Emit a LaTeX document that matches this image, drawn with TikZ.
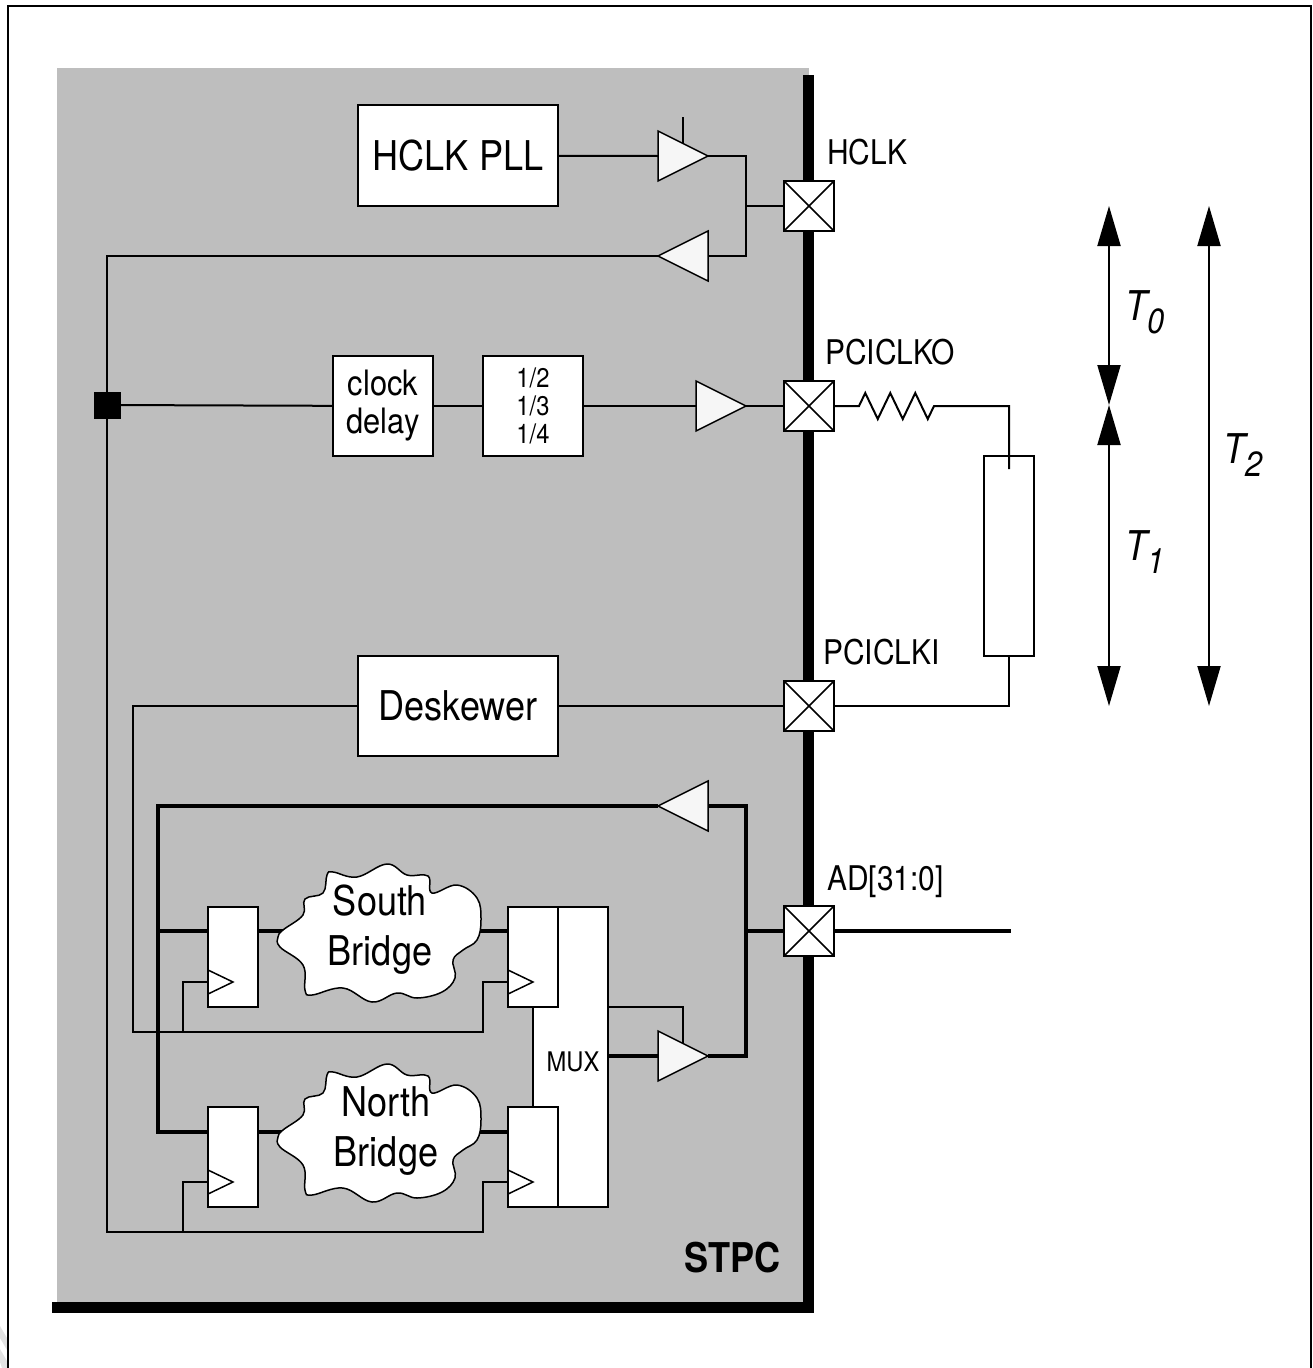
\documentclass[tikz,border=0pt]{standalone}
\usepackage{fontspec}
\setmainfont{TeX Gyre Heros}[FakeStretch=0.88]
\usetikzlibrary{
  arrows.meta,
  positioning,
  shapes.geometric,
  calc,
  decorations.pathmorphing
}
\definecolor{stpcgray}{HTML}{BEBEBE}
\definecolor{bufwhite}{HTML}{F6F6F6}
\definecolor{markgray}{HTML}{E2E2E2}
\newcommand{\bridgecloud}[1]{%
  \draw[cloudedge, yshift=#1] plot[smooth cycle, tension=.65] coordinates {
    (278,937) (283,930) (303,915) (305,899) (323,893) (327,875) (333,872)
    (357,877) (387,864) (407,875) (428,876) (432,893) (457,885) (477,898)
    (481,920) (477,940) (463,950) (453,960) (455,978) (442,992) (417,998)
    (397,993) (372,1002) (343,988) (312,995) (305,990) (303,965) (280,947)};}
\newcommand{\delaylabel}[1]{\itshape T\raisebox{-13pt}{\fontsize{35}{35}\selectfont #1}}

\begin{document}
\begin{tikzpicture}[
    x=1pt, y=-1pt,
    wire/.style={line width=2pt},
    bus/.style={line width=4pt},
    block/.style={
      rectangle, draw, line width=2pt, fill=white, outer sep=0pt, inner sep=0pt,
      align=center, font=\fontsize{41}{50}\selectfont
    },
    smallblock/.style={block, minimum width=100pt, minimum height=100pt},
    bigblock/.style={block, minimum width=200pt},
    flop/.style={
      block, minimum width=50pt, minimum height=100pt,
      path picture={
        \draw[line width=1.5pt] ([yshift=13pt]path picture bounding box.south west)
          -- ([xshift=25pt,yshift=25pt]path picture bounding box.south west)
          -- ([yshift=37pt]path picture bounding box.south west);
      }
    },
    pad/.style={
      rectangle, draw, line width=2pt, fill=white, outer sep=0pt,
      minimum size=50pt,
      path picture={
        \draw[line width=1.5pt] (path picture bounding box.south west) -- (path picture bounding box.north east);
        \draw[line width=1.5pt] (path picture bounding box.north west) -- (path picture bounding box.south east);
      }
    },
    buffer/.style={
      isosceles triangle, isosceles triangle stretches, draw, line width=1.5pt,
      fill=bufwhite, inner sep=0pt, outer sep=0pt,
      minimum width=50pt, minimum height=50pt
    },
    padlabel/.style={anchor=base west, inner sep=0pt, font=\fontsize{34}{40}\selectfont},
    timelabel/.style={inner sep=0pt, font=\fontsize{41}{50}\selectfont},
    span/.style={line width=2pt, {Triangle[length=40pt,width=23pt]}-{Triangle[length=40pt,width=23pt]}},
    cloudedge/.style={draw, fill=white, line width=1.5pt}
  ]
  \useasboundingbox (0,0) rectangle (1312,1368);

  % Page frame and the marks at its corner
  \fill[markgray] (0,1326) -- (7,1338) -- (7,1350) -- (0,1338) -- cycle;
  \fill[markgray] (0,1349) -- (7,1361) -- (7,1368) -- (2,1368) -- (0,1362) -- cycle;
  \draw[line width=2.5pt] (8,1368) -- (8,6) -- (1311,6) -- (1311,1368);

  % Chip
  \fill[stpcgray] (57,68) rectangle (809,1306);
  \fill[black] (803,75) rectangle (814,1313);
  \fill[black] (52,1302) rectangle (814,1313);
  \node[anchor=base east, inner sep=0pt, font=\bfseries\fontsize{41}{50}\selectfont] (stpc) at (781,1272) {STPC};

  % Pads
  \node[pad] (padH) at (809,206) {};
  \node[pad] (padO) at (809,406) {};
  \node[pad] (padI) at (809,706) {};
  \node[pad] (padAD) at (809,931) {};
  \node[padlabel] (lblH) at (827,164) {HCLK};
  \node[padlabel] (lblO) at (825,364) {PCICLKO};
  \node[padlabel] (lblI) at (823,664) {PCICLKI};
  \node[padlabel] (lblAD) at (827,890) {AD[31:0]};

  % Blocks
  \node[bigblock, minimum height=101pt] (pll) at (458,155.5) {HCLK PLL};
  \node[smallblock, font=\fontsize{35}{38}\selectfont] (delay) at (383,406) {clock\\delay};
  \node[smallblock, right=50pt of delay, font=\fontsize{27}{28}\selectfont] (div) {1/2\\1/3\\1/4};
  \node[bigblock, minimum height=100pt] (deskew) at (458,706) {Deskewer};

  % Buffers
  \node[buffer, anchor=apex] (bufH) at (708,156) {};
  \node[buffer, anchor=apex, shape border rotate=180] (bufR) at (658,256) {};
  \node[buffer, anchor=apex] (bufO) at (746,406) {};
  \node[buffer, anchor=apex, shape border rotate=180] (bufIn) at (658,806) {};
  \node[buffer, anchor=apex] (bufOut) at (708,1056) {};

  % Mux and registers
  \node[block, minimum width=50pt, minimum height=300pt] (mux) at (583,1057) {};
  \node[rectangle, fill=white, inner sep=0pt, outer sep=0pt, minimum width=27pt, minimum height=98pt] (neck) at (546.5,1057) {};
  \draw[wire] (533,1006) -- (533,1108);
  \node[inner sep=0pt, font=\fontsize{27}{30}\selectfont] (muxlabel) at (573,1062) {MUX};
  \node[flop] (regSA) at (233,957) {};
  \node[flop] (regSB) at (533,957) {};
  \node[flop] (regNA) at (233,1157) {};
  \node[flop] (regNB) at (533,1157) {};

  % Clock tree
  \coordinate (hub) at (107,405);
  \coordinate (nodeH) at (746,206);
  \coordinate (railS) at (133,1032);
  \coordinate (railN) at (107,1232);
  \draw[wire] (pll) -- (bufH.west);
  \draw[wire] (bufH.apex) -| (nodeH) |- (bufR.east);
  \draw[wire] (padH) -- (nodeH);
  \draw[wire] (bufR.apex) -| (railN) -| ([yshift=25pt]regNB.south west -| 483,0) -- ([yshift=25pt]regNB.south west);
  \draw[wire] (183,1232) |- ([yshift=25pt]regNA.south west);
  \draw[wire] (hub) -- (delay);
  \draw[wire] (delay) -- (div);
  \draw[wire] (div) -- (bufO.west);
  \draw[wire] (bufO.apex) -- (padO);
  \draw[wire] (padI) -- (deskew);
  \draw[wire] (deskew) -| (railS) -| ([yshift=25pt]regSB.south west -| 483,0) -- ([yshift=25pt]regSB.south west);
  \draw[wire] (183,1032) |- ([yshift=25pt]regSA.south west);
  \node[rectangle, fill=black, inner sep=0pt, minimum size=27pt] (hubmark) at (hub) {};
  \draw[wire] ([xshift=-25pt,yshift=12.5pt]bufH.apex) -- ([xshift=-25pt,yshift=39pt]bufH.apex);

  % Off-chip clock line
  \node[cylinder, draw, line width=2pt, shape border rotate=90, aspect=2, outer sep=0pt, inner sep=0pt,
    minimum width=50pt, minimum height=200pt] (cable) at (1009,556) {};
  \coordinate (cablein) at (1009,469);
  \draw[wire] (padO) -- ++(50,0) decorate[decoration={zigzag, amplitude=13pt, segment length=25pt}] {-- ++(75,0)} -| (cablein);
  \draw[wire] (cable.bottom) |- (padI);

  % Data bus
  \coordinate (nodeAD) at (746,931);
  \coordinate (busend) at (1011,931);
  \draw[bus] (padAD) -- (nodeAD);
  \draw[bus] (padAD) -- (busend);
  \draw[bus] (bufOut.apex) -| (nodeAD) |- (bufIn.east);
  \draw[bus] (bufIn.apex) -| (158,1132) -- ([yshift=-25pt]regNA.north west);
  \draw[bus] (158,931) -- ([yshift=-24pt]regSA.north west);
  \draw[bus] ([yshift=-24pt]regSA.north east) -- ([yshift=-24pt]regSB.north west);
  \draw[bus] ([yshift=-25pt]regNA.north east) -- ([yshift=-25pt]regNB.north west);
  \draw[bus] (mux.east |- bufOut.apex) -- (bufOut.west);
  \draw[wire] (mux.east |- regSA.south) -| ([xshift=-25pt,yshift=12.5pt]bufOut.apex);

  % Bridges
  \bridgecloud{0}
  \bridgecloud{-200}
  \node[block, draw=none, fill=none, font=\fontsize{41}{50}\selectfont] (south) at (380,930) {South\\Bridge};
  \node[block, draw=none, fill=none, font=\fontsize{41}{50}\selectfont] (north) at (386,1131) {North\\Bridge};

  % Timing spans
  \coordinate (t0top) at (1109,206);
  \coordinate (t0bot) at (1109,405);
  \coordinate (t1bot) at (1109,706);
  \coordinate (t2top) at (1209,206);
  \coordinate (t2bot) at (1209,706);
  \draw[span] (t0top) -- (t0bot);
  \draw[span] (t0bot) -- (t1bot);
  \draw[span] (t2top) -- (t2bot);
  \node[timelabel] (t0) at (1145,312) {\delaylabel{0}};
  \node[timelabel] (t1) at (1145,552) {\delaylabel{1}};
  \node[timelabel] (t2) at (1243,455) {\delaylabel{2}};
\end{tikzpicture}
\end{document}
